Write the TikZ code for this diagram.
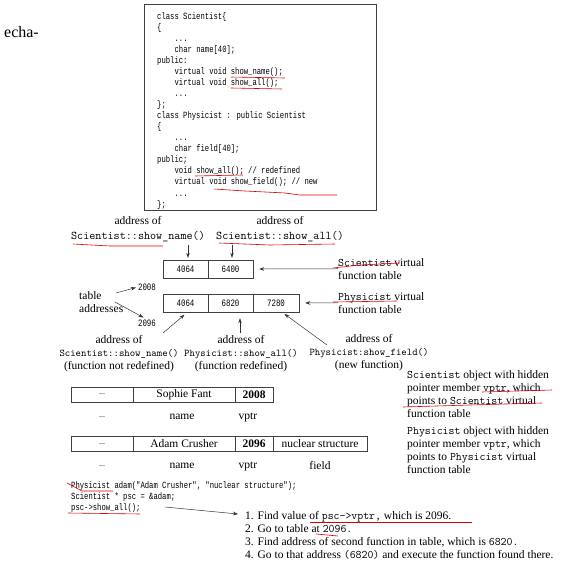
\documentclass[tikz,border=0pt]{standalone}
\usepackage{fontspec}
\setmainfont{Liberation Serif}
\newfontfamily\codefont[FakeStretch=0.76]{Liberation Mono}
\usepackage{tikz}
\usetikzlibrary{arrows.meta,positioning,calc}

\begin{document}
\begin{tikzpicture}[x=1pt,y=-1pt,
  every node/.style={font=\fontsize{11.5}{13}\selectfont,inner sep=0pt},
  code/.style={font=\fontsize{9.5}{11.06}\selectfont\codefont,align=left},
  cell/.style={draw=black!75,minimum height=18pt,font=\fontsize{9.8}{10}\selectfont\codefont},
  ocell/.style={draw=black!75,minimum height=15pt},
  lbl/.style={align=center},
  txt/.style={align=left},
  arr/.style={-{Stealth[length=5pt,width=3.6pt]},black!80,line width=0.5pt},
  hl/.style={red!85!black,line width=0.6pt}]
 \useasboundingbox (0,0) rectangle (576,564);
 \node[font=\fontsize{16}{18}\selectfont,anchor=east] (pg) at (39,32) {echa-};
 % class declarations
 \node[draw=black!75,line width=0.6pt,anchor=north west,minimum width=232pt,minimum height=206pt] (codebox) at (144,4) {};
 \node[code,anchor=north west] (decl) at (157,12) {%
class Scientist\{\\
\{\\
\hspace*{17.4pt}...\\
\hspace*{17.4pt}char name[40];\\
public:\\
\hspace*{17.4pt}virtual void show\_name();\\
\hspace*{17.4pt}virtual void show\_all();\\
\hspace*{17.4pt}...\\
\};\\
class Physicist : public Scientist\\
\{\\
\hspace*{17.4pt}...\\
\hspace*{17.4pt}char field[40];\\
public;\\
\hspace*{17.4pt}void show\_all(); // redefined\\
\hspace*{17.4pt}virtual void show\_field(); // new\\
\hspace*{17.4pt}...\\
\};};
 % virtual function tables
 \node[cell,minimum width=45pt] (s1) at (185.5,269) {4064};
 \node[cell,minimum width=45pt] (s2) at (230.5,269) {6400};
 \node[cell,minimum width=45pt] (p1) at (185.5,303) {4064};
 \node[cell,minimum width=45pt] (p2) at (230.5,303) {6820};
 \node[cell,minimum width=46pt] (p3) at (276,303) {7280};
 \node[lbl,anchor=north] (lsn) at (138,216) {address of\\[2pt]{\fontsize{11.8}{13}\selectfont\ttfamily Scientist::show\_name()}};
 \node[lbl,anchor=north] (lsa) at (280,216) {address of\\[2pt]{\fontsize{11.8}{13}\selectfont\ttfamily Scientist::show\_all()}};
 \node[txt,anchor=north west] (svt) at (338,258) {\texttt{Scientist} virtual\\function table};
 \node[txt,anchor=north west] (pvt) at (338,292) {\texttt{Physicist} virtual\\function table};
 \node[txt,anchor=north west] (taddr) at (79,291) {table\\addresses};
 \node[font=\fontsize{9.8}{10}\selectfont\codefont] (a2008) at (147,287) {2008};
 \node[font=\fontsize{9.8}{10}\selectfont\codefont] (a2096) at (147,323) {2096};
 \node[lbl,anchor=north] (lnr) at (119,335) {address of\\{\fontsize{10.3}{12}\selectfont\ttfamily Scientist::show\_name()}\\(function not redefined)};
 \node[lbl,anchor=north] (lrd) at (241,335) {address of\\{\fontsize{10.3}{12}\selectfont\ttfamily Physicist::show\_all()}\\(function redefined)};
 \node[lbl,anchor=north] (lnf) at (369,334) {address of\\{\fontsize{10.3}{12}\selectfont\ttfamily Physicist:show\_field()}\\(new function)};
 \coordinate (ta1) at (116,293);
 \coordinate (ta2) at (115,302);
 \coordinate (t1) at (163,333);
 \coordinate (t2) at (240,333);
 \coordinate (t3) at (327,345);
 \draw[arr] (lsn.south -| 188,0) ++(0,3) -- ([xshift=2.5pt,yshift=2pt]s1.north);
 \draw[arr] (lsa.south -| 232,0) ++(0,3) -- ([xshift=1.5pt,yshift=2pt]s2.north);
 \draw[arr,shorten >=6pt] (svt.west) -- (s2.east);
 \draw[arr,shorten >=6pt] (pvt.west) -- (p3.east);
 \draw[arr,shorten >=2pt] (ta1) -- (a2008.west);
 \draw[arr,shorten >=4pt] (ta2) -- (a2096.north);
 \draw[arr,shorten >=4pt] (t1) -- ([xshift=2pt]p1.south);
 \draw[arr,shorten >=6pt] (t2) -- ([xshift=9.5pt]p2.south);
 \draw[arr,shorten >=3pt] (t3) -- ([xshift=6pt]p3.south);
 % objects
 \node[ocell,minimum width=62pt] (o1a) at (102,394.5) {\fontsize{8}{9}\selectfont...};
 \node[ocell,minimum width=102pt] (o1b) at (184,394.5) {Sophie Fant};
 \node[ocell,minimum width=38pt] (o1c) at (254,394.5) {\textbf{2008}};
 \node (n1a) at (102,417) {\fontsize{8}{9}\selectfont...};
 \node (n1b) at (182,417) {name};
 \node (n1c) at (248,417) {vptr};
 \node[ocell,minimum width=62pt] (o2a) at (102,444) {\fontsize{8}{9}\selectfont...};
 \node[ocell,minimum width=102pt] (o2b) at (184,444) {Adam Crusher};
 \node[ocell,minimum width=38pt] (o2c) at (254,444) {\textbf{2096}};
 \node[ocell,minimum width=94pt] (o2d) at (320,444) {nuclear structure};
 \node (n2a) at (102,466) {\fontsize{8}{9}\selectfont...};
 \node (n2b) at (182,466) {name};
 \node (n2c) at (248,466) {vptr};
 \node (n2d) at (320,466) {field};
 \node[txt,anchor=north west] (sobj) at (407,370) {\texttt{Scientist} object with hidden\\pointer member \texttt{vptr}, which\\points to \texttt{Scientist} virtual\\function table};
 \node[txt,anchor=north west] (pobj) at (407,426.5) {\texttt{Physicist} object with hidden\\pointer member \texttt{vptr}, which\\points to \texttt{Physicist} virtual\\function table};
 % the call
 \node[code,anchor=north west] (call) at (71,481) {%
Physicist adam("Adam Crusher", "nuclear structure");\\
Scientist * psc = \&adam;\\
psc->show\_all();};
 \node[txt,anchor=north west] (steps) at (245,511) {%
1. Find value of \texttt{psc->vptr,} which is 2096.\\
2. Go to table at \texttt{2096.}\\
3. Find address of second function in table, which is \texttt{6820.}\\
4. Go to that address \texttt{(6820)} and execute the function found there.};
 \coordinate (ctail) at (165,507);
 \draw[arr] (ctail) -- ([xshift=-7pt,yshift=-3pt]steps.north west);
 % red pen marks
 \draw[hl] (231,77) -- (285,78);
 \draw[hl] (231,88) -- (282,89);
 \draw[hl] (195,176) -- (243,175);
 \draw[hl] (214,189) -- (245,191) -- (285,193) -- (300,195) -- (337,195);
 \draw[hl] (73,244) -- (110,246) -- (163,246);
 \draw[hl] (219,243) -- (270,245) -- (335,244);
 \draw[hl] (333,268) -- (360,265) -- (400,263);
 \draw[hl] (333,302) -- (397,301);
 \draw[hl] (482,392) -- (552,390);
 \draw[hl] (403,407) -- (470,405) -- (542,403);
 \draw[hl] (67,483) -- (82,491) -- (113,491);
 \draw[hl] (68,513) -- (140,514);
 \draw[hl] (310,522) -- (472,522);
 \draw[hl] (316,534) -- (338,536);
\end{tikzpicture}
\end{document}
